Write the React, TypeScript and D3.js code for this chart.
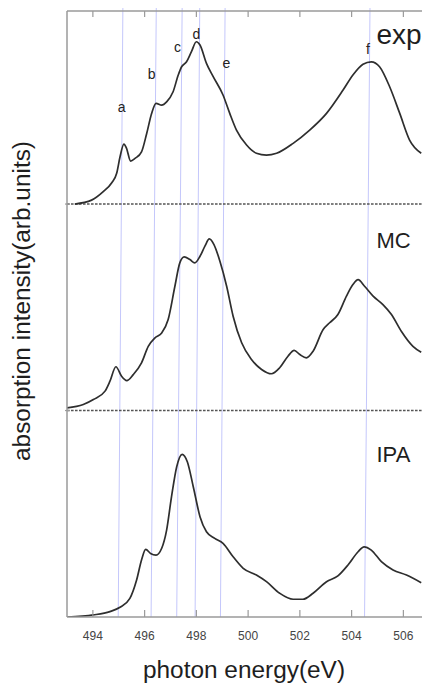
import React from "react";
import * as d3 from "d3";

// photon energy (eV) / intensity above each curve's own baseline (arb. units)
const expEnergy = [493.3, 493.95, 494.4, 494.73, 494.92, 495.05, 495.2, 495.3, 495.46, 495.63, 495.88, 496.08, 496.27, 496.44, 496.66, 496.85, 497.1, 497.3, 497.43, 497.62, 497.81, 498.0, 498.14, 498.39, 498.65, 499.03, 499.29, 499.55, 499.94, 500.32, 500.71, 501.1, 501.74, 502.38, 503.03, 503.67, 504.05, 504.44, 504.76, 505.08, 505.47, 505.86, 506.24, 506.69];
const expValue = [0.0, 0.019, 0.06, 0.103, 0.149, 0.229, 0.29, 0.27, 0.208, 0.221, 0.253, 0.342, 0.439, 0.488, 0.479, 0.495, 0.544, 0.625, 0.665, 0.689, 0.738, 0.786, 0.77, 0.681, 0.617, 0.528, 0.439, 0.358, 0.286, 0.246, 0.237, 0.246, 0.294, 0.358, 0.439, 0.552, 0.625, 0.677, 0.689, 0.665, 0.568, 0.439, 0.31, 0.246];

const mcEnergy = [493.0, 493.63, 494.02, 494.47, 494.66, 494.89, 495.11, 495.31, 495.56, 495.88, 496.14, 496.4, 496.66, 496.91, 497.17, 497.36, 497.53, 497.75, 497.94, 498.14, 498.33, 498.5, 498.68, 498.91, 499.17, 499.42, 499.75, 500.13, 500.52, 500.9, 501.22, 501.54, 501.78, 502.0, 502.25, 502.51, 502.9, 503.15, 503.47, 503.8, 504.05, 504.25, 504.5, 504.83, 505.21, 505.54, 505.92, 506.37, 506.69];
const mcValue = [0.013, 0.029, 0.053, 0.094, 0.142, 0.212, 0.166, 0.145, 0.174, 0.231, 0.311, 0.352, 0.376, 0.441, 0.602, 0.715, 0.744, 0.731, 0.715, 0.747, 0.796, 0.831, 0.804, 0.723, 0.602, 0.457, 0.328, 0.247, 0.199, 0.178, 0.207, 0.263, 0.291, 0.271, 0.255, 0.287, 0.392, 0.425, 0.465, 0.554, 0.61, 0.634, 0.602, 0.554, 0.513, 0.465, 0.384, 0.311, 0.282];

const ipaEnergy = [493.0, 494.02, 494.66, 495.05, 495.43, 495.69, 495.88, 496.04, 496.23, 496.44, 496.66, 496.85, 497.04, 497.24, 497.45, 497.65, 497.88, 498.14, 498.39, 498.71, 499.03, 499.42, 499.81, 500.32, 500.71, 501.22, 501.74, 502.12, 502.51, 503.03, 503.47, 503.86, 504.25, 504.48, 504.76, 505.15, 505.6, 506.12, 506.69];
const ipaValue = [0.0, 0.01, 0.026, 0.047, 0.09, 0.179, 0.276, 0.328, 0.308, 0.3, 0.333, 0.421, 0.583, 0.728, 0.788, 0.752, 0.631, 0.486, 0.413, 0.381, 0.357, 0.292, 0.236, 0.203, 0.171, 0.115, 0.086, 0.086, 0.115, 0.171, 0.199, 0.252, 0.316, 0.34, 0.324, 0.268, 0.228, 0.203, 0.166];

const panelNames = ["exp", "MC", "IPA"];
const panelOffsets = [2, 1, 0];
const panelFontSizes = [28, 22, 22];

// feature guides a..f (slightly tilted: energy at top and at bottom of the plot)
const featureNames = ["a", "b", "c", "d", "e", "f"];
const featureTopEnergy = [495.16, 496.45, 497.45, 498.13, 499.11, 504.71];
const featureBottomEnergy = [494.98, 496.25, 497.24, 497.95, 498.93, 504.5];
const featureLabelEnergy = [495.11, 496.27, 497.27, 498.0, 499.16, 504.63];
const featureLabelValue = [0.447, 0.604, 0.738, 0.798, 0.657, 0.726];

const xTicks = [494, 496, 498, 500, 502, 504, 506];

const W = 422;
const H = 684;
const plotLeft = 67;
const plotTop = 11;
const plotBottom = 617;

const font = "'Liberation Sans', Arial, Helvetica, sans-serif";

export default function App() {
  const x = d3.scaleLinear().domain([493, 506.72]).range([plotLeft, W]);
  const y = d3.scaleLinear().domain([0, 2.935]).range([plotBottom, plotTop]);

  const series = [
    { e: expEnergy, v: expValue, off: 2 },
    { e: mcEnergy, v: mcValue, off: 1 },
    { e: ipaEnergy, v: ipaValue, off: 0 },
  ];

  const line = d3
    .line<[number, number]>()
    .x((d) => x(d[0]))
    .y((d) => y(d[1]))
    .curve(d3.curveMonotoneX);

  const frame = "#9a9a9a";

  return (
    <svg
      width={W}
      height={H}
      style={{ position: "absolute", left: 0, top: 0, background: "#fff" }}
    >
      <defs>
        <clipPath id="plot">
          <rect x={plotLeft} y={0} width={W - plotLeft} height={plotBottom} />
        </clipPath>
      </defs>

      {/* guide lines */}
      {featureNames.map((n, i) => (
        <line
          key={"g" + n}
          x1={x(featureTopEnergy[i])}
          y1={8}
          x2={x(featureBottomEnergy[i])}
          y2={plotBottom}
          stroke="#c4c7fb"
          strokeWidth={1}
        />
      ))}

      {/* baselines between panels */}
      {[1, 2].map((o) => (
        <line
          key={"b" + o}
          x1={plotLeft}
          x2={W}
          y1={y(o)}
          y2={y(o)}
          stroke="#555"
          strokeWidth={1.5}
          strokeDasharray="2.6,1.4"
        />
      ))}

      {/* spectra */}
      <g clipPath="url(#plot)">
        {series.map((s, k) => (
          <path
            key={"s" + k}
            d={line(s.e.map((e, i) => [e, s.v[i] + s.off]))}
            fill="none"
            stroke="#2e2e2e"
            strokeWidth={1.7}
          />
        ))}
      </g>

      {/* frame */}
      <line x1={plotLeft} x2={plotLeft} y1={plotTop} y2={plotBottom} stroke={frame} strokeWidth={1.5} />
      <line x1={plotLeft} x2={W} y1={plotTop} y2={plotTop} stroke={frame} strokeWidth={1.5} />
      <line x1={plotLeft} x2={W} y1={plotBottom} y2={plotBottom} stroke={frame} strokeWidth={1.5} />
      {[1, 2].map((o) => (
        <line key={"yt" + o} x1={plotLeft - 2} x2={plotLeft + 3} y1={y(o)} y2={y(o)} stroke={frame} strokeWidth={1.2} />
      ))}
      {xTicks.map((t) => (
        <g key={"t" + t}>
          <line x1={x(t)} x2={x(t)} y1={plotBottom} y2={plotBottom - 7} stroke={frame} strokeWidth={1.2} />
          <line x1={x(t)} x2={x(t)} y1={plotTop} y2={plotTop + 6} stroke={frame} strokeWidth={1.2} />
          <text
            x={x(t)}
            y={639.5}
            textAnchor="middle"
            fontFamily={"'Liberation Sans Narrow', " + font}
            fontSize={12}
            fill="#444"
          >
            {t}
          </text>
        </g>
      ))}

      {/* feature labels */}
      {featureNames.map((n, i) => (
        <text
          key={"l" + n}
          x={x(featureLabelEnergy[i])}
          y={y(featureLabelValue[i] + 2)}
          textAnchor="middle"
          fontFamily={font}
          fontSize={14}
          fill="#222"
        >
          {n}
        </text>
      ))}

      {/* panel names */}
      {panelNames.map((n, i) => (
        <text
          key={"p" + n}
          x={376.5}
          y={y(panelOffsets[i]) - [160, 163, 155.5][i]}
          fontFamily={font}
          fontSize={panelFontSizes[i]}
          fill="#1e1e1e"
        >
          {n}
        </text>
      ))}

      {/* axis titles */}
      <text x={244} y={678} textAnchor="middle" fontFamily={font} fontSize={24.4} fill="#1e1e1e">
        photon energy(eV)
      </text>
      <text
        transform="translate(30,301) rotate(-90)"
        textAnchor="middle"
        fontFamily={font}
        fontSize={24.4}
        fill="#1e1e1e"
      >
        absorption intensity(arb.units)
      </text>
    </svg>
  );
}
